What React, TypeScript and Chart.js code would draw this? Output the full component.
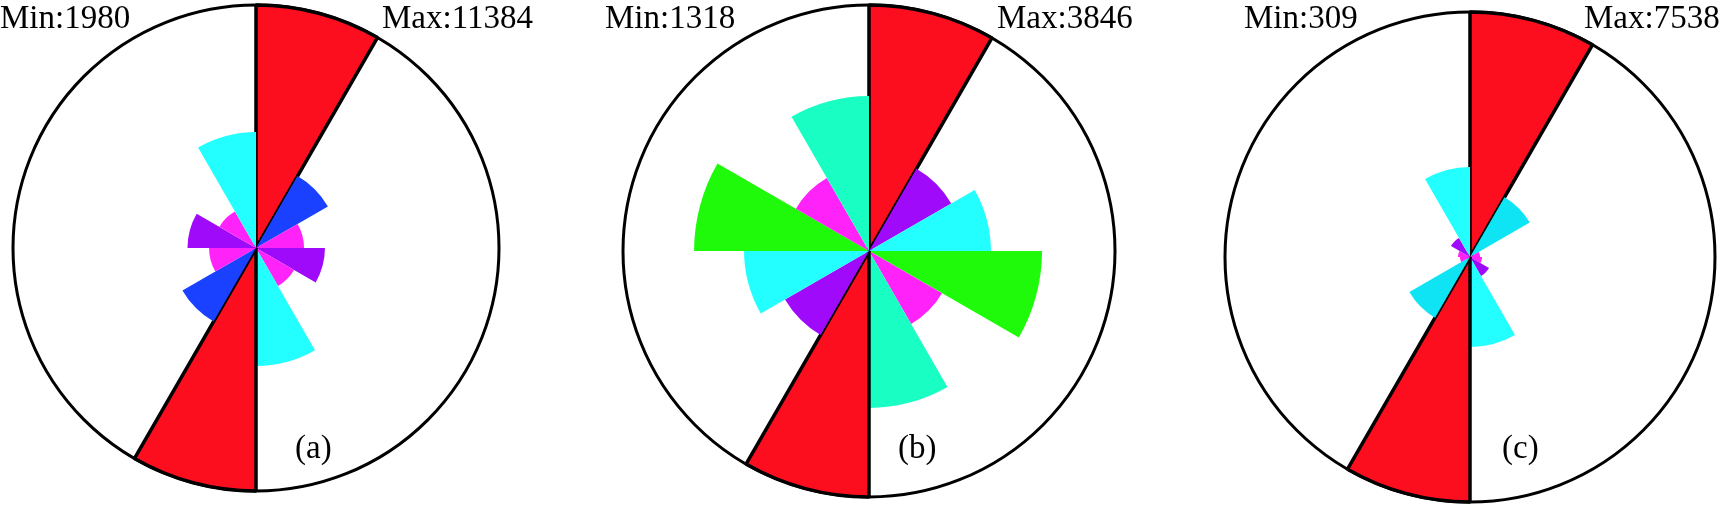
import React, { useEffect, useRef } from 'react';
import { Chart, registerables } from 'chart.js';

Chart.register(...registerables);

// 12 orientation bins of 30°, clockwise from the top
const SECTORS = [
  '0°-30°', '30°-60°', '60°-90°', '90°-120°', '120°-150°', '150°-180°',
  '180°-210°', '210°-240°', '240°-270°', '270°-300°', '300°-330°', '330°-360°',
];

// Panel (a)
const A_MIN = 1980;
const A_MAX = 11384;
const A_VALUES = [11384, 3890, 2250, 3230, 2060, 5530, 11384, 3980, 2200, 3210, 1980, 5430];

// Panel (b)
const B_MIN = 1318;
const B_MAX = 3846;
const B_VALUES = [3846, 1485, 1907, 2705, 1318, 2454, 3846, 1516, 1954, 2735, 1320, 2423];

// Panel (c)
const C_MIN = 309;
const C_MAX = 7538;
const C_VALUES = [7538, 2123, 309, 370, 677, 2769, 7538, 2154, 309, 370, 677, 2769];

const PANEL_TAGS = ['(a)', '(b)', '(c)'];

// colours
const RED = 'rgb(252,14,30)';
const MAGENTA = 'rgb(255,35,250)';
const PURPLE = 'rgb(160,10,250)';
const BLUE = 'rgb(25,65,255)';
const CYAN = 'rgb(35,255,255)';
const CYAN2 = 'rgb(15,228,245)';
const TEAL = 'rgb(25,255,195)';
const GREEN = 'rgb(30,250,10)';

const A_COLORS = [RED, BLUE, MAGENTA, PURPLE, MAGENTA, CYAN, RED, BLUE, MAGENTA, PURPLE, MAGENTA, CYAN];
const B_COLORS = [RED, PURPLE, CYAN, GREEN, MAGENTA, TEAL, RED, PURPLE, CYAN, GREEN, MAGENTA, TEAL];
const C_COLORS = [RED, CYAN2, MAGENTA, MAGENTA, PURPLE, CYAN, RED, CYAN2, MAGENTA, MAGENTA, PURPLE, CYAN];

const PAD = 6;
const FONT = '"Liberation Serif", "Times New Roman", serif';

type RoseProps = {
  values: number[];
  colors: string[];
  max: number;
  cx: number;
  cy: number;
  r: number;
};

function Rose({ values, colors, max, cx, cy, r }: RoseProps) {
  const ref = useRef<HTMLCanvasElement | null>(null);
  const size = 2 * (r + PAD);
  useEffect(() => {
    if (!ref.current) return;
    const chart = new Chart(ref.current, {
      type: 'polarArea',
      data: {
        labels: SECTORS,
        datasets: [
          {
            data: values,
            backgroundColor: colors,
            borderColor: '#000',
            borderWidth: values.map((v) => (v === max ? 3.5 : 0)),
          },
        ],
      },
      options: {
        responsive: false,
        maintainAspectRatio: false,
        animation: false,
        devicePixelRatio: 1,
        layout: { padding: PAD },
        plugins: { legend: { display: false }, tooltip: { enabled: false } },
        scales: {
          r: {
            min: 0,
            max: max,
            ticks: { display: false, stepSize: max },
            grid: { color: '#000', lineWidth: 3 },
            angleLines: { display: false },
            pointLabels: { display: false },
          },
        },
      },
    } as any);
    return () => chart.destroy();
  }, []);
  return (
    <canvas
      ref={ref}
      width={size}
      height={size}
      style={{ position: 'absolute', left: cx - r - PAD, top: cy - r - PAD, width: size, height: size }}
    />
  );
}

function Label({ text, left, top }: { text: string; left: number; top: number }) {
  return (
    <div
      style={{
        position: 'absolute',
        left,
        top,
        fontFamily: FONT,
        fontSize: 33,
        lineHeight: '33px',
        color: '#000',
        whiteSpace: 'nowrap',
      }}
    >
      {text}
    </div>
  );
}

export default function App() {
  return (
    <div
      style={{
        position: 'absolute',
        left: 0,
        top: 0,
        width: 1722,
        height: 506,
        background: '#fff',
        overflow: 'hidden',
      }}
    >
      <Rose values={A_VALUES} colors={A_COLORS} max={A_MAX} cx={256} cy={248} r={243} />
      <Rose values={B_VALUES} colors={B_COLORS} max={B_MAX} cx={869} cy={251} r={246} />
      <Rose values={C_VALUES} colors={C_COLORS} max={C_MAX} cx={1470} cy={257} r={245} />

      <Label text={'Min:' + A_MIN} left={0} top={1} />
      <Label text={'Max:' + A_MAX} left={382} top={1} />
      <Label text={'Min:' + B_MIN} left={605} top={1} />
      <Label text={'Max:' + B_MAX} left={997} top={1} />
      <Label text={'Min:' + C_MIN} left={1244} top={1} />
      <Label text={'Max:' + C_MAX} left={1584} top={1} />

      <Label text={PANEL_TAGS[0]} left={295} top={431} />
      <Label text={PANEL_TAGS[1]} left={898} top={431} />
      <Label text={PANEL_TAGS[2]} left={1502} top={431} />
    </div>
  );
}
